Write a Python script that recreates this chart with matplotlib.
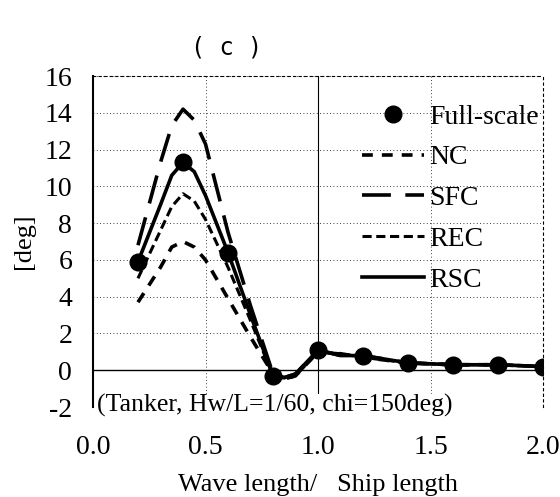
import numpy as np
import matplotlib.pyplot as plt

plt.rcParams['font.family'] = ['Liberation Serif', 'DejaVu Serif']
plt.rcParams['axes.unicode_minus'] = False

# full-scale measurements
x_fs = [0.2, 0.4, 0.6, 0.8, 1.0, 1.2, 1.4, 1.6, 1.8, 2.0]
y_fs = [5.9, 11.3, 6.4, -0.3, 1.1, 0.8, 0.4, 0.3, 0.3, 0.2]

# model curves
x_m = [0.2, 0.3, 0.35, 0.4, 0.45, 0.5, 0.6, 0.7, 0.8, 0.85, 0.9, 1.0, 1.1, 1.2, 1.4, 1.6, 1.8, 2.0]
nc = [3.7, 5.6, 6.7, 7.0, 6.7, 6.0, 3.9, 1.8, -0.2, -0.5, -0.3, 1.0, 0.9, 0.7, 0.4, 0.3, 0.3, 0.2]
sfc = [6.8, 11.3, 13.3, 14.2, 13.6, 12.3, 7.5, 3.5, -0.2, -0.4, -0.2, 1.1, 0.8, 0.8, 0.4, 0.3, 0.3, 0.2]
rec = [5.0, 7.6, 8.9, 9.6, 9.2, 8.2, 5.6, 2.7, -0.3, -0.5, -0.3, 1.0, 0.9, 0.7, 0.4, 0.3, 0.3, 0.2]
rsc = [5.9, 9.0, 10.6, 11.3, 10.8, 9.5, 6.4, 3.0, -0.3, -0.4, -0.2, 1.1, 0.8, 0.8, 0.4, 0.3, 0.3, 0.2]

fig = plt.figure(figsize=(5.6, 4.97), dpi=100)
ax = fig.add_axes([0.166, 0.181, 0.804, 0.666])

ax.plot(x_fs, y_fs, 'o', color='black', ms=12, label='Full-scale', zorder=5)
ax.plot(x_m, nc, color='black', lw=2.6, dashes=(3, 2.5), label='NC')
ax.plot(x_m, sfc, color='black', lw=2.6, dashes=(8, 4), label='SFC')
ax.plot(x_m, rec, color='black', lw=2.2, dashes=(3, 1.5), label='REC')
ax.plot(x_m, rsc, color='black', lw=2.6, label='RSC')

ax.set_xlim(0, 2.0)
ax.set_ylim(-2, 16)
ax.set_xticks(np.arange(0, 2.01, 0.5))
ax.set_xticklabels(['0.0', '0.5', '1.0', '1.5', '2.0'])
ax.set_yticks(range(-2, 17, 2))
ax.tick_params(length=0, labelsize=20)
ax.tick_params(axis='x', pad=20)
ax.tick_params(axis='y', pad=15)

ax.grid(True, color='black', ls=(0, (1, 3)), lw=0.6)
ax.axhline(0, color='black', lw=1.0)
ax.axvline(1.0, color='black', lw=0.8)
ax.spines['left'].set_linewidth(1.5)
ax.spines['bottom'].set_visible(False)
for s in ['top', 'right']:
    ax.spines[s].set_linestyle((0, (2, 3)))
    ax.spines[s].set_linewidth(0.8)

ax.set_xlabel('Wave length/   Ship length', fontsize=19, labelpad=10)
ax.set_ylabel('[deg]', fontsize=19, labelpad=7)
fig.text(0.405, 0.905, '( c )', fontsize=17, family='DejaVu Sans Mono', ha='center', va='center')

ax.text(0.02, -1.9, '(Tanker, Hw/L=1/60, chi=150deg)', fontsize=18.5, va='center',
        bbox=dict(facecolor='white', edgecolor='none', pad=0))

ax.legend(loc='upper right', bbox_to_anchor=(0.99, 0.915), frameon=False, fontsize=20,
          handlelength=2.2, handletextpad=0.2, labelspacing=0.55, borderaxespad=0,
          borderpad=0)

fig.savefig('out.png', dpi=100)
